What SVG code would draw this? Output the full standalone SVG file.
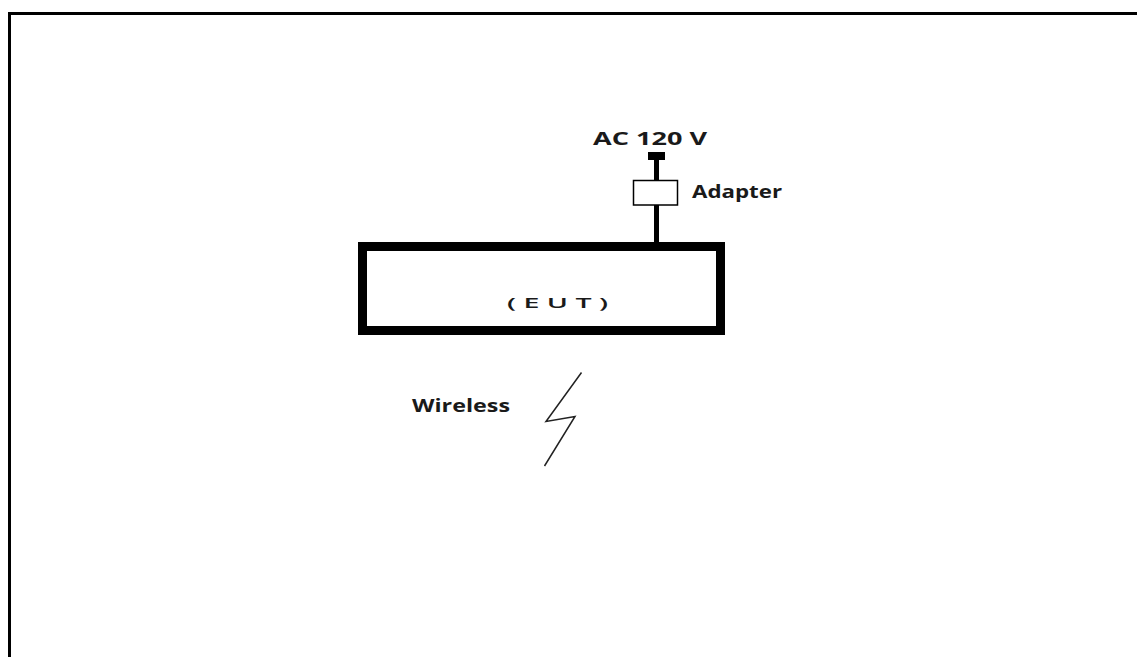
<svg xmlns="http://www.w3.org/2000/svg" width="1137" height="657" viewBox="0 0 1137 657">
<style>
.lbl{font-family:"Open Sans","Liberation Sans",sans-serif;font-weight:bold;font-size:17px;fill:#1a1a1a}
.wire{stroke:#000;stroke-width:5;fill:none}
</style>
<rect width="1137" height="657" fill="#fff"/>
<g id="frame">
<path d="M9.5 657 V13.5 H1137" fill="none" stroke="#000" stroke-width="3"/>
</g>
<g id="connectors">
<line class="wire" x1="656.5" y1="159" x2="656.5" y2="180"/>
<line class="wire" x1="656.5" y1="205" x2="656.5" y2="243"/>
</g>
<g id="ac-source">
<rect x="648" y="152" width="17" height="8" fill="#000"/>
<text class="lbl" x="593" y="145" textLength="114" lengthAdjust="spacingAndGlyphs">AC 120 V</text>
</g>
<g id="adapter">
<rect x="633.5" y="180.5" width="44" height="24.5" fill="#fff" stroke="#000" stroke-width="1.5"/>
<text class="lbl" x="692" y="198" textLength="90" lengthAdjust="spacingAndGlyphs">Adapter</text>
</g>
<g id="eut">
<rect x="362.5" y="246.5" width="358" height="84" fill="#fff" stroke="#000" stroke-width="9"/>
<text x="507" y="308" font-family="'Open Sans','Liberation Sans',sans-serif" font-weight="600" font-size="14" fill="#1a1a1a" textLength="101" lengthAdjust="spacingAndGlyphs">( E U T )</text>
</g>
<g id="wireless">
<text class="lbl" x="412" y="412" textLength="98" lengthAdjust="spacingAndGlyphs">Wireless</text>
<polyline points="581.5,372.5 546,421.5 575,416.5 544.5,466" fill="none" stroke="#222" stroke-width="1.5"/>
</g>
</svg>
